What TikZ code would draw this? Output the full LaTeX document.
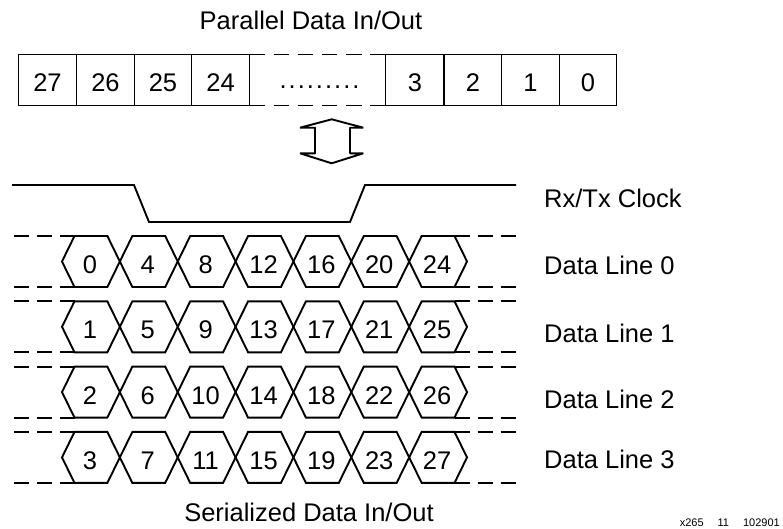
\documentclass[tikz,border=0pt]{standalone}
\usepackage{fontspec}
\setmainfont{Liberation Sans}
\begin{document}
\begin{tikzpicture}[x=1pt,y=-1pt,
  boxline/.style={line width=1.1pt},
  wave/.style={line width=1.9pt, line join=miter},
  ext/.style={line width=1.9pt, dash pattern=on 15pt off 8pt},
  lbl/.style={font=\fontsize{25.5}{28}\selectfont, inner sep=0pt, anchor=base},
  arrowshape/.style={line width=1.9pt, line join=bevel}]
\useasboundingbox (0,0) rectangle (783,528);

% title
\node[lbl] (ptitle) at (311,29) {Parallel Data In/Out};

% parallel register boxes
\foreach \a/\b/\t in {18.3/76.7/27, 76.7/134.3/26, 134.3/191.7/25, 191.7/249.3/24,
                      385.7/444/3, 444/501.7/2, 501.7/559.3/1, 559.3/616.7/0} {
  \draw[boxline] (\a,54.3) rectangle (\b,105.7);
  \node[lbl] (b\t) at ({(\a+\b)/2},91.7) {\t};
}
\draw[boxline, dash pattern=on 15.5pt off 8.7pt] (249.3,54.3) -- (385.7,54.3);
\draw[boxline, dash pattern=on 15.5pt off 8.7pt] (249.3,105.7) -- (385.7,105.7);
\node[lbl] (dots) at (319.5,88.5) {\makebox[9.1pt]{.}\makebox[9.1pt]{.}\makebox[9.1pt]{.}\makebox[9.1pt]{.}\makebox[9.1pt]{.}\makebox[9.1pt]{.}\makebox[9.1pt]{.}\makebox[9.1pt]{.}\makebox[9.1pt]{.}};

% double arrow
\draw[arrowshape] (331.7,119.3) -- (363.3,127.7) -- (350,127.7) -- (350,153.3)
  -- (363.3,153.3) -- (331.7,163.3) -- (300,153.3) -- (315,153.3) -- (315,127.7)
  -- (300,127.7) -- cycle;

% clock
\draw[wave] (12,185) -- (134,185) -- (149,222) -- (350,222) -- (365,185) -- (516,185);
\node[lbl, anchor=base west] (clk) at (544,207.3) {Rx/Tx Clock};

% data lines
\foreach \r/\ly in {0/274, 1/342, 2/408, 3/468} {
  \pgfmathsetmacro\yc{261.5+65.3*\r}
  \pgfmathsetmacro\yt{\yc-25.5}
  \pgfmathsetmacro\yb{\yc+25.5}
  \foreach \k in {0,...,6} {
    \pgfmathsetmacro\L{62+57.86*\k}
    \pgfmathsetmacro\R{\L+57.86}
    \pgfmathtruncatemacro\n{4*\k+\r}
    \draw[wave] (\L,\yc) -- ({\L+12.5},\yt) -- ({\R-12.5},\yt) -- (\R,\yc)
      -- ({\R-12.5},\yb) -- ({\L+12.5},\yb) -- cycle;
    \node[lbl] (h\r-\k) at ({(\L+\R)/2-1},{\yc+12}) {\n};
  }
  \draw[ext] (74.5,\yt) -- (13.5,\yt);
  \draw[ext] (74.5,\yb) -- (13.5,\yb);
  \draw[ext] (454.5,\yt) -- (515.5,\yt);
  \draw[ext] (454.5,\yb) -- (515.5,\yb);
  \node[lbl, anchor=base west] (dl\r) at (544,\ly) {Data Line \r};
}

% bottom captions
\node[lbl] (stitle) at (309,521.7) {Serialized Data In/Out};
\node[font=\fontsize{11}{13}\selectfont, inner sep=0pt, anchor=base east] (figid) at (780,526.7) {x265\hspace{14pt}11\hspace{14pt}102901};
\end{tikzpicture}
\end{document}
